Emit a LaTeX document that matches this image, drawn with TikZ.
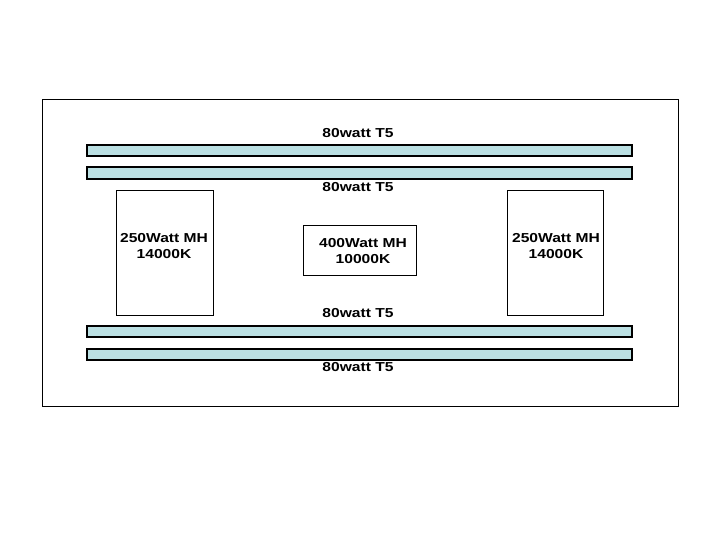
\documentclass[tikz,border=0pt]{standalone}
\usepackage{fontspec}
\setmainfont{Liberation Sans}
\definecolor{tube}{RGB}{187,224,227}
\newcommand\wideline[1]{\scalebox{1.2}[1]{#1}}
\begin{document}
\begin{tikzpicture}[x=1pt,y=-1pt,
  tubebox/.style={draw=black,line width=1.2pt,fill=tube},
  lampbox/.style={draw=black,line width=0.8pt,fill=white},
  lbl/.style={font=\fontsize{13}{16}\selectfont\bfseries,inner sep=0pt,align=center}]
\useasboundingbox (0,0) rectangle (720,540);
\draw[line width=0.8pt] (42,99) rectangle (678,406);
\draw[tubebox] (87,145) rectangle (632,156);
\draw[tubebox] (87,167) rectangle (632,179);
\draw[tubebox] (87,326) rectangle (632,337);
\draw[tubebox] (87,349) rectangle (632,360);
\node[lbl] (t1) at (358,133.5) {\wideline{80watt T5}};
\node[lbl] (t2) at (358,187) {\wideline{80watt T5}};
\node[lbl] (t3) at (358,313.5) {\wideline{80watt T5}};
\node[lbl] (t4) at (358,367) {\wideline{80watt T5}};
\draw[lampbox] (116,190) rectangle (213,315);
\draw[lampbox] (507,190) rectangle (603,315);
\draw[lampbox] (303,225) rectangle (416,275);
\node[lbl] (l) at (164,246.3) {\wideline{250Watt MH}\\\wideline{14000K}};
\node[lbl] (r) at (556,246.3) {\wideline{250Watt MH}\\\wideline{14000K}};
\node[lbl] (c) at (363,251.5) {\wideline{400Watt MH}\\\wideline{10000K}};
\end{tikzpicture}
\end{document}
